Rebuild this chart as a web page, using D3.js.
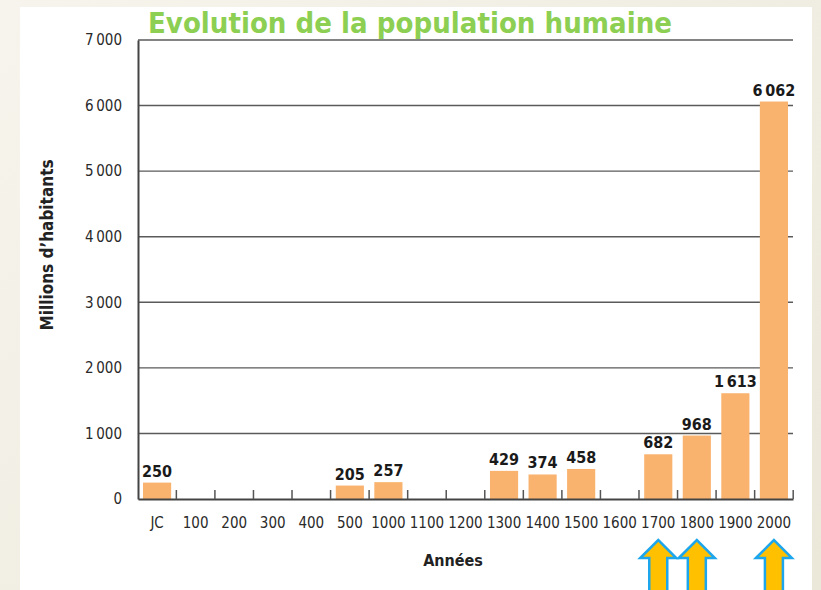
<!DOCTYPE html>
<html>
<head>
<meta charset="utf-8">
<script src="https://cdn.jsdelivr.net/npm/d3@7"></script>
<style>
  html, body { margin: 0; padding: 0; }
  body { width: 821px; height: 590px; overflow: hidden;
         background: linear-gradient(135deg, #f6f4ec 0%, #ebe8da 100%); }
  svg { display: block; }
</style>
</head>
<body>
<script>
// data
const years = ["JC", "100", "200", "300", "400", "500", "1000", "1100", "1200",
               "1300", "1400", "1500", "1600", "1700", "1800", "1900", "2000"];
const population = [250, null, null, null, null, 205, 257, null, null,
                    429, 374, 458, null, 682, 968, 1613, 6062];
const yTicks = [0, 1000, 2000, 3000, 4000, 5000, 6000, 7000];
const highlighted = ["1700", "1800", "2000"];

const width = 821, height = 590;
const margin = {top: 40, right: 28, bottom: 91, left: 138};

const condensed = "'Liberation Sans Narrow', 'DejaVu Sans Condensed', 'Roboto Condensed', sans-serif";
const fmt = v => d3.format(",d")(v).replace(/,/g, "\u2009");

const svg = d3.select("body").append("svg")
    .attr("width", width)
    .attr("height", height);

// white card
svg.append("rect")
    .attr("x", 20).attr("y", 7)
    .attr("width", 792).attr("height", height - 7)
    .attr("fill", "#ffffff");

const x = d3.scaleBand()
    .domain(years)
    .range([margin.left, width - margin.right])
    .paddingInner(0.27)
    .paddingOuter(0.13);

const y = d3.scaleLinear()
    .domain([0, 7000])
    .range([height - margin.bottom, margin.top]);

// grid lines
svg.append("g")
    .selectAll("line")
    .data(yTicks.slice(1))
    .join("line")
    .attr("x1", margin.left)
    .attr("x2", width - margin.right)
    .attr("y1", d => y(d))
    .attr("y2", d => y(d))
    .attr("stroke", "#5a5a5a")
    .attr("stroke-width", 1.4);

// y axis
const yAxis = svg.append("g")
    .attr("transform", `translate(${margin.left},0)`)
    .call(d3.axisLeft(y).tickValues(yTicks).tickSize(0).tickPadding(16).tickFormat(fmt));
yAxis.select(".domain").attr("stroke", "#444").attr("stroke-width", 2);
yAxis.selectAll("text")
    .attr("font-family", condensed)
    .attr("font-size", 15)
    .attr("fill", "#2a2a2a");

// bars
const data = years.map((c, i) => ({year: c, value: population[i]})).filter(d => d.value != null);

svg.append("g")
    .selectAll("rect")
    .data(data)
    .join("rect")
    .attr("x", d => x(d.year))
    .attr("y", d => y(d.value))
    .attr("width", x.bandwidth())
    .attr("height", d => y(0) - y(d.value))
    .attr("fill", "#f9b36f");

svg.append("g")
    .selectAll("text")
    .data(data)
    .join("text")
    .attr("x", d => x(d.year) + x.bandwidth() / 2)
    .attr("y", d => y(d.value) - 6)
    .attr("text-anchor", "middle")
    .attr("font-family", condensed)
    .attr("font-weight", "bold")
    .attr("font-size", 16)
    .attr("fill", "#1a1a1a")
    .text(d => fmt(d.value));

// x axis
const xAxis = svg.append("g")
    .attr("transform", `translate(0,${y(0)})`)
    .call(d3.axisBottom(x).tickSize(0).tickPadding(18));
xAxis.select(".domain").attr("stroke", "#444").attr("stroke-width", 2.2);
xAxis.selectAll("text")
    .attr("font-family", condensed)
    .attr("font-size", 15)
    .attr("fill", "#2a2a2a");

// separators between years
const gap = x.step() * x.paddingInner();
svg.append("g")
    .selectAll("line")
    .data(years)
    .join("line")
    .attr("x1", d => x(d) + x.bandwidth() + gap / 2)
    .attr("x2", d => x(d) + x.bandwidth() + gap / 2)
    .attr("y1", y(0) - 9)
    .attr("y2", y(0))
    .attr("stroke", "#555")
    .attr("stroke-width", 1.5);

// axis titles
svg.append("text")
    .attr("x", 453)
    .attr("y", 566)
    .attr("text-anchor", "middle")
    .attr("font-family", condensed)
    .attr("font-weight", "bold")
    .attr("font-size", 16)
    .attr("fill", "#222")
    .text("Années");

svg.append("text")
    .attr("transform", "translate(53,245) rotate(-90)")
    .attr("text-anchor", "middle")
    .attr("font-family", condensed)
    .attr("font-weight", "bold")
    .attr("font-size", 17)
    .attr("fill", "#222")
    .text("Millions d’habitants");

// title
svg.append("text")
    .attr("x", 410)
    .attr("y", 33)
    .attr("text-anchor", "middle")
    .attr("font-family", "'Comic Sans MS', 'DejaVu Sans', sans-serif")
    .attr("font-weight", "bold")
    .attr("font-size", 28)
    .attr("textLength", 524)
    .attr("lengthAdjust", "spacingAndGlyphs")
    .attr("fill", "#8ccf52")
    .text("Evolution de la population humaine");

// arrows under highlighted years
const arrow = d3.line()([[-18, 18], [0, 0], [18, 18], [9, 18], [9, 60], [-9, 60], [-9, 18]]) + "Z";
svg.append("g")
    .selectAll("path")
    .data(highlighted)
    .join("path")
    .attr("transform", d => `translate(${x(d) + x.bandwidth() / 2},540)`)
    .attr("d", arrow)
    .attr("fill", "#ffc000")
    .attr("stroke", "#1ea6ec")
    .attr("stroke-width", 2.5)
    .attr("stroke-linejoin", "miter");
</script>
</body>
</html>
